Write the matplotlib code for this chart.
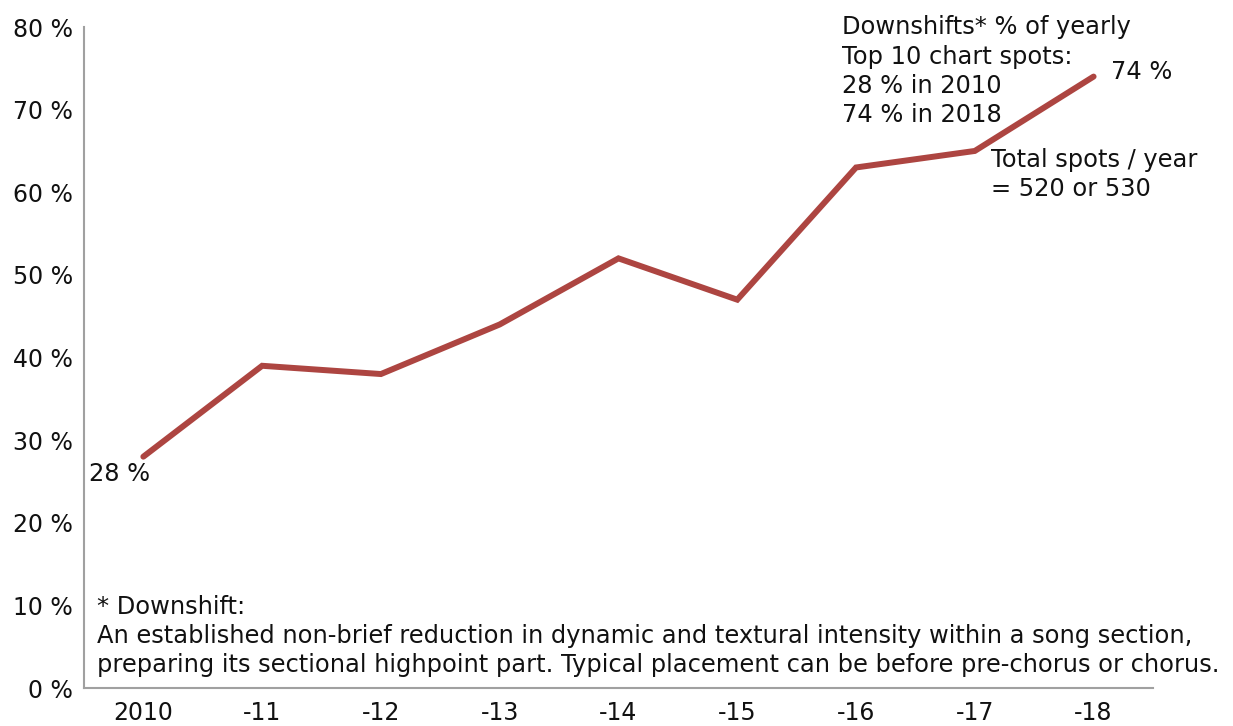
import matplotlib
matplotlib.use("Agg")
import matplotlib.pyplot as plt
import numpy as np

# Downshift share of yearly Top 10 chart spots
years = ["2010", "-11", "-12", "-13", "-14", "-15", "-16", "-17", "-18"]
share = [28, 39, 38, 44, 52, 47, 63, 65, 74]
y_ticks = [0, 10, 20, 30, 40, 50, 60, 70, 80]

LINE_COLOR = "#ad4541"
SPINE_COLOR = "#a0a0a0"
TXT = "#111111"
FS = 17.4

plt.rcParams["font.family"] = ["DejaVu Sans"]

fig = plt.figure(figsize=(12.33, 7.26), dpi=100)
ax = fig.add_axes([0.0681, 0.0523, 0.867, 0.9105])

x = np.arange(len(years))
ax.plot(x, share, color=LINE_COLOR, linewidth=4.3, solid_joinstyle="miter", solid_capstyle="round")

ax.set_xlim(-0.5, 8.5)
ax.set_ylim(0, 80)
ax.set_xticks(x)
ax.set_xticklabels(years)
ax.set_yticks(y_ticks)
ax.set_yticklabels([f"{v} %" for v in y_ticks])
ax.tick_params(axis="both", length=0, labelsize=17, colors=TXT)
ax.tick_params(axis="x", pad=9)
ax.tick_params(axis="y", pad=8)

for side in ["top", "right"]:
    ax.spines[side].set_visible(False)
for side in ["left", "bottom"]:
    ax.spines[side].set_color(SPINE_COLOR)
    ax.spines[side].set_linewidth(1.5)

# end-point labels
ax.text(-0.455, share[0] - 2.1, f"{share[0]} %", fontsize=FS, va="center", ha="left", color=TXT)
ax.text(8.15, share[-1] + 0.5, f"{share[-1]} %", fontsize=FS, va="center", ha="left", color=TXT)

ax.text(5.886, 81.4, "Downshifts* % of yearly\nTop 10 chart spots:\n28 % in 2010\n74 % in 2018",
        fontsize=FS, va="top", ha="left", linespacing=1.28, color=TXT, clip_on=False)
ax.text(7.14, 65.4, "Total spots / year\n= 520 or 530",
        fontsize=FS, va="top", ha="left", linespacing=1.28, color=TXT)

ax.text(-0.387, 11.3,
        "* Downshift:\n"
        "An established non-brief reduction in dynamic and textural intensity within a song section,\n"
        "preparing its sectional highpoint part. Typical placement can be before pre-chorus or chorus.",
        fontsize=FS, va="top", ha="left", linespacing=1.28, color=TXT)

fig.savefig("out.png", dpi=100)
